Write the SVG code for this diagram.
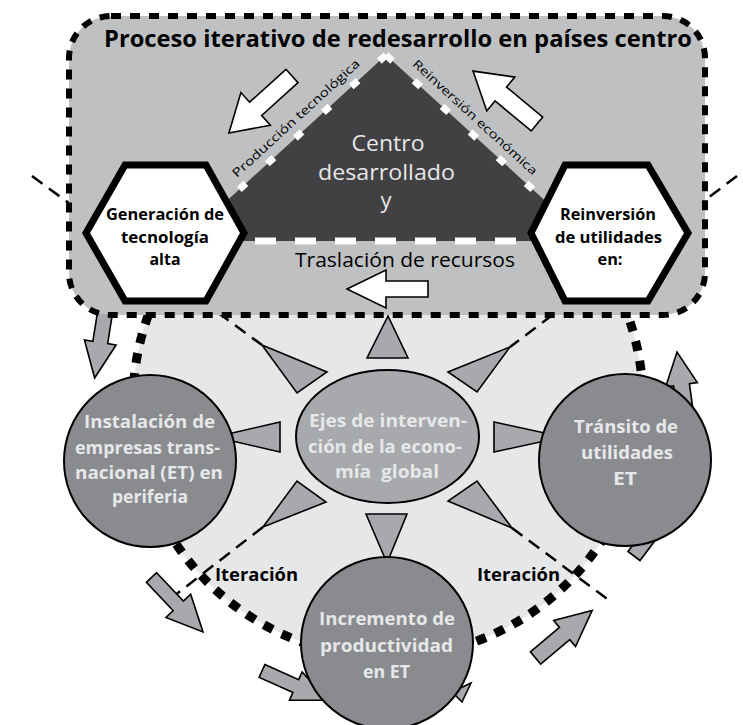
<svg xmlns="http://www.w3.org/2000/svg" width="743" height="725" viewBox="0 0 743 725">
  <style>
    .t { font-family: "Open Sans", "Noto Sans", "Liberation Sans", sans-serif; text-anchor: middle; }
    .b { font-weight: bold; }
    .light { fill: #e6e7e8; }
    .dark { fill: #000000; }
    .guide { fill: none; stroke: #000; stroke-width: 2.5; stroke-dasharray: 13 8; }
    .spike { fill: #a7a9ac; stroke: #000; stroke-width: 1.6; stroke-linejoin: miter; }
    .garrow { fill: #a7a9ac; stroke: #000; stroke-width: 1.6; }
    .warrow { fill: #ffffff; stroke: #000; stroke-width: 1.6; }
    .sat { fill: #8a8b8e; stroke: #000; stroke-width: 2; }
    .hex { fill: #ffffff; stroke: #000; stroke-width: 7; stroke-linejoin: miter; }
  </style>

  <!-- periphery ring -->
  <g id="periphery">
    <circle cx="388" cy="402" r="255" fill="#e6e7e8" stroke="#000" stroke-width="9" stroke-dasharray="10 10"/>
  </g>

  <!-- connectors: guide lines and cycle arrows -->
  <g id="connectors">
    <line class="guide" x1="32" y1="176" x2="262" y2="345"/>
    <line class="guide" x1="737" y1="176" x2="510" y2="347"/>
    <line class="guide" x1="263" y1="527" x2="165" y2="603"/>
    <line class="guide" x1="512" y1="528" x2="610" y2="601"/>

    <path class="garrow" d="M0,-7.5 H43 V-16 L79,0 L43,16 V7.5 H0 Z" transform="translate(107,300) rotate(99)"/>
    <path class="garrow" d="M0,-8 H37 V-16 L70,0 L37,16 V8 H0 Z" transform="translate(686.5,421.4) rotate(-97.8)"/>
    <path class="garrow" d="M0,-7.5 H42 V-14 L70,0 L42,14 V7.5 H0 Z" transform="translate(634,556) rotate(-53)"/>
    <path class="garrow" d="M0,-7 H39 V-17 L75,0 L39,17 V7 H0 Z" transform="translate(151.5,577.5) rotate(46.6)"/>
    <path class="garrow" d="M0,-7 H37 V-15.5 L72,0 L37,15.5 V7 H0 Z" transform="translate(262,671) rotate(24)"/>
    <polygon class="garrow" points="452,692 471,683 462,702"/>
    <path class="garrow" d="M0,-8 H38 V-17 L74,0 L38,17 V8 H0 Z" transform="translate(535.5,658) rotate(-40)"/>
  </g>

  <!-- core region box -->
  <g id="core">
    <rect x="69" y="16" width="636" height="299" rx="42" fill="#bfc0c2" stroke="#000" stroke-width="6" stroke-dasharray="10 9"/>
    <text class="t b dark" x="398" y="47" font-size="23" textLength="588" lengthAdjust="spacingAndGlyphs">Proceso iterativo de redesarrollo en países centro</text>
  </g>

  <!-- developed centre triangle -->
  <g id="centro">
    <polygon points="386,55 183,241 589,241" fill="#414042"/>
    <line x1="386" y1="55" x2="183" y2="241" stroke="#fff" stroke-width="7" stroke-dasharray="9 29"/>
    <line x1="386" y1="55" x2="589" y2="241" stroke="#fff" stroke-width="7" stroke-dasharray="9 29"/>
    <line x1="255" y1="241" x2="530" y2="241" stroke="#fff" stroke-width="7" stroke-dasharray="21 19"/>
    <text class="t light" x="388" y="151" font-size="22" textLength="73" lengthAdjust="spacingAndGlyphs">Centro</text>
    <text class="t light" x="386.5" y="180" font-size="22" textLength="137" lengthAdjust="spacingAndGlyphs">desarrollado</text>
    <text class="t light" x="386" y="208" font-size="22">y</text>
    <text class="t dark" font-size="12" transform="translate(298.8,121.3) rotate(-42.5)" textLength="168" lengthAdjust="spacingAndGlyphs">Producción tecnológica</text>
    <text class="t dark" font-size="12" transform="translate(472.2,120.3) rotate(42.5)" textLength="164" lengthAdjust="spacingAndGlyphs">Reinversión económica</text>
    <path class="warrow" d="M0,-9 H49 V-22 L85,0 L49,22 V9 H0 Z" transform="translate(292,76) rotate(137.9)"/>
    <path class="warrow" d="M0,-9 H47 V-22 L83,0 L47,22 V9 H0 Z" transform="translate(537,124) rotate(-140.4)"/>
  </g>

  <g id="traslacion">
    <text class="t dark" x="405" y="267" font-size="20" textLength="220" lengthAdjust="spacingAndGlyphs">Traslación de recursos</text>
    <polygon class="warrow" points="428,281 386,281 386,270 347,289 386,308 386,297 428,297"/>
  </g>

  <!-- hexagon nodes -->
  <g id="generacion">
    <polygon class="hex" points="86,233 125,165 206,165 244,233 206,301 125,301"/>
    <text class="t b dark" x="165" y="220" font-size="16.5" textLength="118" lengthAdjust="spacingAndGlyphs">Generación de</text>
    <text class="t b dark" x="165" y="243" font-size="16.5" textLength="88" lengthAdjust="spacingAndGlyphs">tecnología</text>
    <text class="t b dark" x="165" y="265" font-size="16.5" textLength="31" lengthAdjust="spacingAndGlyphs">alta</text>
  </g>
  <g id="reinversion">
    <polygon class="hex" points="531,233 565,165 648,165 688,233 648,301 565,301"/>
    <text class="t b dark" x="608" y="220" font-size="16.5" textLength="96" lengthAdjust="spacingAndGlyphs">Reinversión</text>
    <text class="t b dark" x="608.5" y="243" font-size="16.5" textLength="107" lengthAdjust="spacingAndGlyphs">de utilidades</text>
    <text class="t b dark" x="610" y="265" font-size="16.5" textLength="25" lengthAdjust="spacingAndGlyphs">en:</text>
  </g>

  <!-- central axis with its eight spikes -->
  <g id="ejes">
    <polygon class="spike" points="388,316 367,358 408,358"/>
    <polygon class="spike" points="262,345 327,372 297,393"/>
    <polygon class="spike" points="510,347 448,372 477,392"/>
    <polygon class="spike" points="215,437 280,422 280,452"/>
    <polygon class="spike" points="563,437 494,422 494,452"/>
    <polygon class="spike" points="263,527 297,481 326,502"/>
    <polygon class="spike" points="512,528 477,481 448,501"/>
    <polygon class="spike" points="387,563 366,514 407,514"/>
    <ellipse cx="387.5" cy="436.5" rx="91.5" ry="66.5" fill="#a7a9ac" stroke="#000" stroke-width="2"/>
    <text class="t b light" x="388" y="427" font-size="18" textLength="158" lengthAdjust="spacingAndGlyphs">Ejes de interven-</text>
    <text class="t b light" x="385" y="453" font-size="18" textLength="154" lengthAdjust="spacingAndGlyphs">ción de la econo-</text>
    <text class="t b light" x="387" y="478" font-size="18" textLength="104" lengthAdjust="spacingAndGlyphs">mía&#160; global</text>
  </g>

  <!-- periphery nodes -->
  <g id="instalacion">
    <circle class="sat" cx="150" cy="461" r="86"/>
    <text class="t b light" x="149.5" y="428" font-size="18" textLength="131" lengthAdjust="spacingAndGlyphs">Instalación de</text>
    <text class="t b light" x="147.5" y="454" font-size="18" textLength="145" lengthAdjust="spacingAndGlyphs">empresas trans-</text>
    <text class="t b light" x="149" y="479" font-size="18" textLength="148" lengthAdjust="spacingAndGlyphs">nacional (ET) en</text>
    <text class="t b light" x="150" y="503" font-size="18" textLength="76" lengthAdjust="spacingAndGlyphs">periferia</text>
  </g>
  <g id="transito">
    <circle class="sat" cx="625" cy="460" r="86"/>
    <text class="t b light" x="626" y="433" font-size="18" textLength="104" lengthAdjust="spacingAndGlyphs">Tránsito de</text>
    <text class="t b light" x="627" y="459" font-size="18" textLength="92" lengthAdjust="spacingAndGlyphs">utilidades</text>
    <text class="t b light" x="625" y="485" font-size="18" textLength="24" lengthAdjust="spacingAndGlyphs">ET</text>
  </g>
  <g id="incremento">
    <circle class="sat" cx="387" cy="643" r="86"/>
    <text class="t b light" x="387" y="625" font-size="18" textLength="136" lengthAdjust="spacingAndGlyphs">Incremento de</text>
    <text class="t b light" x="386.5" y="652" font-size="18" textLength="133" lengthAdjust="spacingAndGlyphs">productividad</text>
    <text class="t b light" x="386.5" y="678" font-size="18" textLength="47" lengthAdjust="spacingAndGlyphs">en ET</text>
  </g>

  <g id="iteracion-labels">
    <text class="t b dark" x="256.5" y="581" font-size="17" textLength="83" lengthAdjust="spacingAndGlyphs">Iteración</text>
    <text class="t b dark" x="518.5" y="581" font-size="17" textLength="83" lengthAdjust="spacingAndGlyphs">Iteración</text>
  </g>
</svg>
